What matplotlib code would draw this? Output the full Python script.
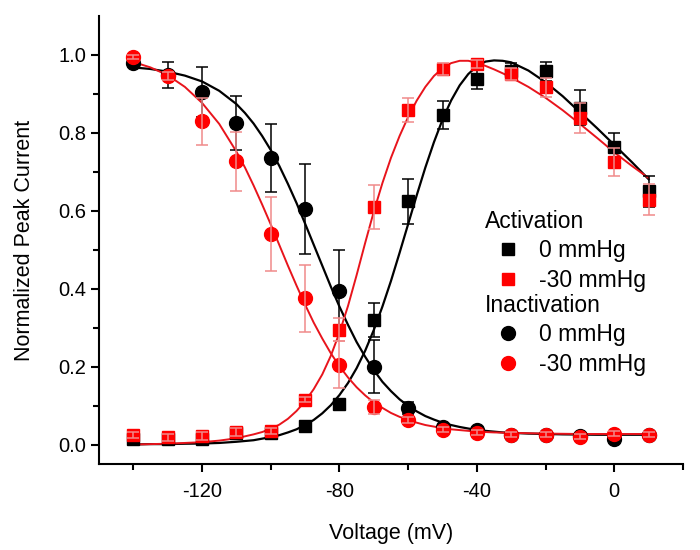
import matplotlib
matplotlib.use("Agg")
import matplotlib.pyplot as plt
from matplotlib.lines import Line2D

plt.rcParams['font.family'] = ['Liberation Sans', 'DejaVu Sans']
plt.rcParams['axes.unicode_minus'] = False

# ---- measured data ----
volt = [-140, -130, -120, -110, -100, -90, -80, -70, -60, -50, -40, -30, -20, -10, 0, 10]

act0 = [0.015, 0.015, 0.015, 0.03, 0.03, 0.047, 0.105, 0.32, 0.624, 0.846, 0.939, 0.96, 0.958, 0.864, 0.764, 0.65]
act0_err = [0.008, 0.012, 0.01, 0.01, 0.006, 0.005, 0.005, 0.043, 0.057, 0.036, 0.026, 0.02, 0.025, 0.045, 0.036, 0.04]
act30 = [0.025, 0.018, 0.022, 0.032, 0.035, 0.115, 0.295, 0.609, 0.859, 0.964, 0.977, 0.952, 0.917, 0.838, 0.725, 0.628]
act30_err = [0.008, 0.01, 0.01, 0.01, 0.008, 0.006, 0.03, 0.057, 0.03, 0.015, 0.01, 0.015, 0.025, 0.038, 0.035, 0.04]

inact0 = [0.98, 0.948, 0.905, 0.825, 0.735, 0.605, 0.395, 0.2, 0.093, 0.045, 0.038, 0.025, 0.025, 0.022, 0.015, 0.025]
inact0_err = [0.008, 0.033, 0.063, 0.07, 0.087, 0.115, 0.105, 0.068, 0.015, 0.006, 0.006, 0.006, 0.006, 0.006, 0.006, 0.006]
inact30 = [0.995, 0.945, 0.83, 0.727, 0.54, 0.375, 0.205, 0.097, 0.062, 0.038, 0.03, 0.025, 0.025, 0.02, 0.028, 0.025]
inact30_err = [0.005, 0.01, 0.06, 0.075, 0.095, 0.085, 0.06, 0.018, 0.008, 0.006, 0.006, 0.006, 0.006, 0.006, 0.006, 0.006]

# ---- fitted curves ----
fit_v = [-140, -135, -130, -125, -120, -115, -110,
         -107.5, -105, -102.5, -100, -97.5, -95, -92.5, -90, -87.5, -85, -82.5, -80,
         -77.5, -75, -72.5, -70, -67.5, -65, -62.5, -60, -57.5, -55, -52.5, -50,
         -47.5, -45, -42.5, -40, -37.5, -35, -32.5, -30,
         -25, -20, -15, -10, -5, 0, 5, 10]
fit_act0 = [0.0, 0.001, 0.001, 0.002, 0.0025, 0.004, 0.007,
            0.009, 0.011, 0.015, 0.019, 0.024, 0.031, 0.039, 0.05, 0.063, 0.08, 0.101, 0.127,
            0.158, 0.196, 0.241, 0.294, 0.354, 0.42, 0.492, 0.566, 0.64, 0.711, 0.776, 0.834,
            0.883, 0.922, 0.951, 0.971, 0.983, 0.986, 0.985, 0.981,
            0.96, 0.93, 0.894, 0.853, 0.812, 0.769, 0.726, 0.681]
fit_act30 = [0.0, 0.001, 0.002, 0.004, 0.006, 0.01, 0.016,
             0.021, 0.026, 0.032, 0.04, 0.051, 0.066, 0.086, 0.111, 0.142, 0.18, 0.228, 0.287,
             0.356, 0.435, 0.518, 0.598, 0.671, 0.736, 0.792, 0.841, 0.883, 0.918, 0.946, 0.966,
             0.979, 0.985, 0.985, 0.98, 0.972, 0.963, 0.953, 0.942,
             0.918, 0.89, 0.858, 0.823, 0.787, 0.75, 0.716, 0.684]
fit_inact0 = [0.968, 0.964, 0.957, 0.947, 0.932, 0.908, 0.874,
              0.851, 0.824, 0.792, 0.756, 0.715, 0.669, 0.62, 0.567, 0.513, 0.459, 0.405, 0.354,
              0.307, 0.263, 0.225, 0.191, 0.161, 0.137, 0.116, 0.099, 0.085, 0.073, 0.064, 0.056,
              0.05, 0.045, 0.041, 0.0375, 0.035, 0.033, 0.031, 0.03,
              0.028, 0.027, 0.026, 0.0255, 0.025, 0.025, 0.025, 0.025]
fit_inact30 = [0.982, 0.968, 0.948, 0.918, 0.877, 0.823, 0.752,
               0.711, 0.665, 0.616, 0.565, 0.512, 0.459, 0.408, 0.359, 0.313, 0.272, 0.234, 0.201,
               0.172, 0.147, 0.126, 0.108, 0.094, 0.081, 0.071, 0.063, 0.056, 0.05, 0.046, 0.042,
               0.039, 0.037, 0.035, 0.0335, 0.032, 0.031, 0.0305, 0.03,
               0.029, 0.028, 0.0275, 0.027, 0.027, 0.027, 0.027, 0.027]

xticks_major = [-120, -80, -40, 0]
xticks_minor = [-140, -100, -60, -20, 20]
yticks_major = [0.0, 0.2, 0.4, 0.6, 0.8, 1.0]
yticks_minor = [0.1, 0.3, 0.5, 0.7, 0.9]

BLACK = '#000000'
RED = '#ff0000'
RED_LINE = '#e8141c'
RED_ERR = '#f08a8a'

fig = plt.figure(figsize=(7, 5.5), dpi=100)
ax = fig.add_axes([0.1414, 0.1564, 0.8343, 0.8145])

# fit lines
ax.plot(fit_v, fit_act0, color=BLACK, lw=1.6, zorder=2)
ax.plot(fit_v, fit_inact0, color=BLACK, lw=1.6, zorder=2)
ax.plot(fit_v, fit_act30, color=RED_LINE, lw=1.4, zorder=2)
ax.plot(fit_v, fit_inact30, color=RED_LINE, lw=1.4, zorder=2)

# error bars
ebkw = dict(fmt='none', elinewidth=1.1, capsize=4, capthick=1.1)
ax.errorbar(volt, act0, yerr=act0_err, ecolor=BLACK, zorder=3, **ebkw)
ax.errorbar(volt, inact0, yerr=inact0_err, ecolor=BLACK, zorder=3, **ebkw)
ax.errorbar(volt, act30, yerr=act30_err, ecolor=RED_ERR, zorder=5, **ebkw)
ax.errorbar(volt, inact30, yerr=inact30_err, ecolor=RED_ERR, zorder=5, **ebkw)

# markers
ax.plot(volt, act0, ls='none', marker='s', ms=8.5, color=BLACK, mec=BLACK, zorder=4)
ax.plot(volt, inact0, ls='none', marker='o', ms=10, color=BLACK, mec=BLACK, zorder=4)
ax.plot(volt, act30, ls='none', marker='s', ms=8.5, color=RED, mec=RED, zorder=4.5)
ax.plot(volt, inact30, ls='none', marker='o', ms=10, color=RED, mec=RED, zorder=4.5)

ax.set_xlim(-150, 20)
ax.set_ylim(-0.05, 1.1)
ax.set_xticks(xticks_major)
ax.set_xticks(xticks_minor, minor=True)
ax.set_yticks(yticks_major)
ax.set_yticklabels([f'{v:.1f}' for v in yticks_major])
ax.set_yticks(yticks_minor, minor=True)

for s in ['top', 'right']:
    ax.spines[s].set_visible(False)
for s in ['left', 'bottom']:
    ax.spines[s].set_linewidth(1.5)
ax.tick_params(which='major', direction='out', length=6, width=1.5, labelsize=14.5)
ax.tick_params(which='minor', direction='out', length=4, width=1.5)
ax.tick_params(axis='x', which='major', pad=7)
ax.tick_params(axis='y', which='major', pad=3)

ax.set_xlabel('Voltage (mV)', fontsize=15.5, labelpad=16)
ax.set_ylabel('Normalized Peak Current', fontsize=15.5, labelpad=17)

# legends
fs = 16.5
h_act = [Line2D([], [], ls='none', marker='s', ms=8.5, color=BLACK),
         Line2D([], [], ls='none', marker='s', ms=8.5, color=RED)]
h_in = [Line2D([], [], ls='none', marker='o', ms=10, color=BLACK),
        Line2D([], [], ls='none', marker='o', ms=10, color=RED)]
common = dict(frameon=False, fontsize=fs, title_fontsize=fs, alignment='left',
              handlelength=2.0, handletextpad=0.35, borderpad=0.0, borderaxespad=0.0,
              labelspacing=0.3, loc='upper left')
leg1 = ax.legend(h_act, ['0 mmHg', '-30 mmHg'], title='Activation',
                 bbox_to_anchor=(0.661, 0.566), **common)
leg1._legend_box.sep = 4
ax.add_artist(leg1)
leg2 = ax.legend(h_in, ['0 mmHg', '-30 mmHg'], title='Inactivation',
                 bbox_to_anchor=(0.661, 0.379), **common)
leg2._legend_box.sep = 4

fig.savefig('out.png', dpi=100)
